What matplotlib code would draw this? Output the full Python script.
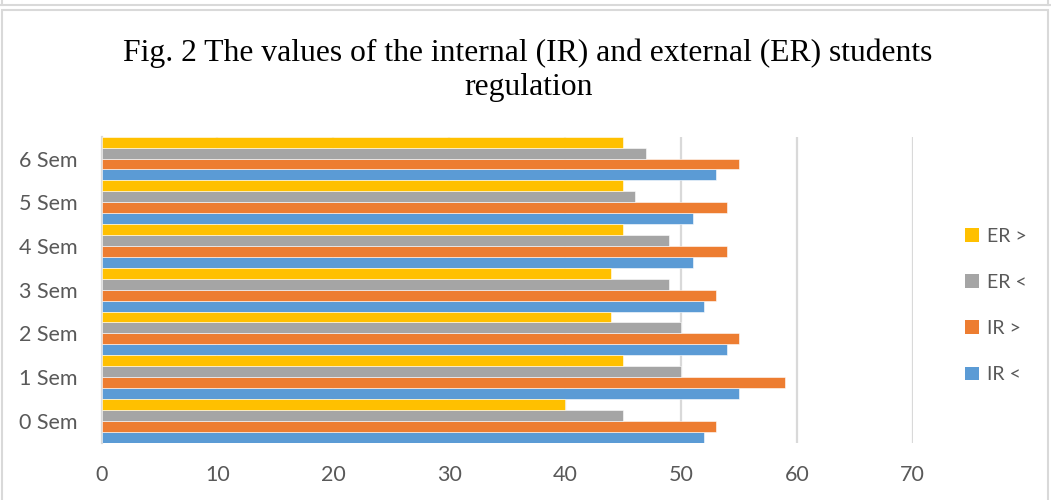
import matplotlib
matplotlib.use("Agg")
import matplotlib.pyplot as plt
from matplotlib.patches import Patch, Rectangle
from matplotlib.lines import Line2D
import numpy as np

categories = ["0 Sem", "1 Sem", "2 Sem", "3 Sem", "4 Sem", "5 Sem", "6 Sem"]
series_names = ["IR <", "IR >", "ER <", "ER >"]
ir_less = [52, 55, 54, 52, 51, 51, 53]
ir_more = [53, 59, 55, 53, 54, 54, 55]
er_less = [45, 50, 50, 49, 49, 46, 47]
er_more = [40, 45, 44, 44, 45, 45, 45]
series_values = [ir_less, ir_more, er_less, er_more]
colors = ["#5B9BD5", "#ED7D31", "#A5A5A5", "#FFC000"]
x_ticks = [0, 10, 20, 30, 40, 50, 60, 70]
title_lines = ["Fig. 2 The values of the internal (IR) and external (ER) students",
               "regulation"]

W, H = 1051, 500
fig = plt.figure(figsize=(W / 100, H / 100), dpi=100)
fig.patch.set_facecolor("white")

# frames
border = "#d9d9d9"
fig.add_artist(Rectangle((2 / W, -0.01), 1046 / W, (500 - 10) / H + 0.01,
                         transform=fig.transFigure, fill=False,
                         edgecolor=border, linewidth=1.5))
fig.add_artist(Line2D([0, 1], [1 - 5 / H, 1 - 5 / H], transform=fig.transFigure,
                      color=border, linewidth=1.5))
fig.add_artist(Line2D([2 / W, 2 / W], [1 - 5 / H, 1], transform=fig.transFigure,
                      color=border, linewidth=1.5))
fig.add_artist(Line2D([1048 / W, 1048 / W], [1 - 5 / H, 1], transform=fig.transFigure,
                      color=border, linewidth=1.5))

left, right = 101.5 / W, 912.8 / W
top, bottom = 136.7 / H, 442.7 / H
ax = fig.add_axes([left, 1 - bottom, right - left, bottom - top])

n = len(categories)
y = np.arange(n)
bh = 0.25
offsets = [-0.375, -0.125, 0.125, 0.375]
for vals, name, c, off in zip(series_values, series_names, colors, offsets):
    ax.barh(y + off, vals, height=bh, color=c, label=name,
            edgecolor="white", linewidth=0.4, zorder=3)

ax.set_xlim(0, 70)
ax.set_ylim(-0.5, n - 0.5)
ax.set_xticks(x_ticks)
ax.set_yticks(y)
ax.set_yticklabels(categories)
ax.grid(axis="x", color="#d9d9d9", linewidth=1.6, zorder=0)
ax.set_axisbelow(True)
for s in ["top", "right", "bottom"]:
    ax.spines[s].set_visible(False)
ax.spines["left"].set_color("#d9d9d9")
ax.spines["left"].set_linewidth(1.6)
ax.tick_params(axis="both", length=0, colors="#595959", labelsize=15.5)
ax.tick_params(axis="x", pad=16)
ax.tick_params(axis="y", pad=17)
for lab in ax.get_xticklabels() + ax.get_yticklabels():
    lab.set_fontfamily("Lato")

fig.text(0.5025, 1 - 61 / H, title_lines[0], ha="center", va="baseline",
         fontsize=22.8, family="Liberation Serif", color="black")
fig.text(0.5025, 1 - 95 / H, title_lines[1], ha="center", va="baseline",
         fontsize=22.8, family="Liberation Serif", color="black")

handles = [Patch(facecolor=c, edgecolor="none") for c in colors][::-1]
labels = series_names[::-1]
leg = fig.legend(handles, labels, loc="center left",
                 bbox_to_anchor=(965 / W, 1 - 305.5 / H),
                 frameon=False, handlelength=0.7, handleheight=0.7,
                 handletextpad=0.45, labelspacing=1.5,
                 prop={"family": "Lato", "size": 14}, borderaxespad=0, borderpad=0)
for t in leg.get_texts():
    t.set_color("#595959")

fig.savefig("out.png", dpi=100)
